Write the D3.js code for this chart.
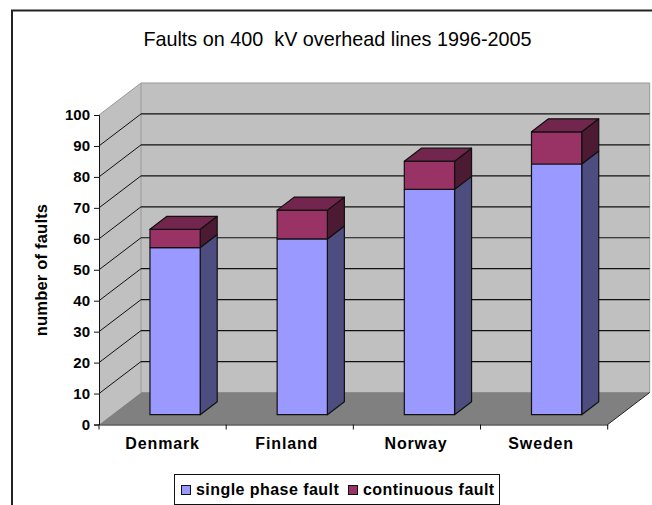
<!DOCTYPE html>
<html><head><meta charset="utf-8">
<script src="https://cdn.jsdelivr.net/npm/d3@7"></script>
<style>html,body{margin:0;padding:0;background:#fff}svg{display:block}text{font-family:"Liberation Sans",Arial,sans-serif;fill:#000}</style>
</head><body><svg id="c" width="652" height="505"></svg>
<script>
const categories = ["Denmark","Finland","Norway","Sweden"];
const singlePhase = [54, 56.8, 72.8, 81];
const continuous = [5.9, 9.3, 9.1, 10.4];
const yTicks = [0,10,20,30,40,50,60,70,80,90,100];
const seriesNames = ["single phase fault","continuous fault"];
const titleText = "Faults on 400  kV overhead lines 1996-2005";
const yTitle = "number of faults";
const labelNudge = [0,-3,-1,-3];

const svg = d3.select("#c");
const x = d3.scaleBand().domain(categories).range([99,607.7]);
const y = d3.scaleLinear().domain([0,100]).range([424.5,115]);
const wallDX = 42, wallDY = -32;
const barDX = 17, barDY = -13;
const barShiftX = 12.5, barShiftY = -9.8;
const barW = x.bandwidth()*0.395;
const pts = a => a.map(p=>p.join(",")).join(" ");

// frame
svg.append("path").attr("d","M12,505V10.5H652").attr("fill","none").attr("stroke","#222").attr("stroke-width",2);

// walls and floor
const xL=x.range()[0], xR=x.range()[1], y0=y(0), y100=y(100);
svg.append("polygon").attr("points",pts([[xL,y0],[xL+wallDX,y0+wallDY],[xL+wallDX,y100+wallDY],[xL,y100]])).attr("fill","#c0c0c0");
svg.append("polygon").attr("points",pts([[xL+wallDX,y0+wallDY],[xR+wallDX,y0+wallDY],[xR+wallDX,y100+wallDY],[xL+wallDX,y100+wallDY]])).attr("fill","#c0c0c0").attr("stroke","#999").attr("stroke-width",1);
svg.append("polygon").attr("points",pts([[xL,y0],[xR,y0],[xR+wallDX,y0+wallDY],[xL+wallDX,y0+wallDY]])).attr("fill","#808080");
svg.append("line").attr("x1",xL).attr("y1",y100).attr("x2",xL+wallDX).attr("y2",y100+wallDY).attr("stroke","#999");

// gridlines
yTicks.filter(t=>t>0&&t<100).forEach(t=>{
  const yy=y(t);
  svg.append("line").attr("x1",xL).attr("y1",yy).attr("x2",xL+wallDX).attr("y2",yy+wallDY).attr("stroke","#111").attr("stroke-width",1);
  svg.append("line").attr("x1",xL+wallDX).attr("y1",yy+wallDY).attr("x2",xR+wallDX).attr("y2",yy+wallDY).attr("stroke","#111").attr("stroke-width",1.2);
});
svg.append("line").attr("x1",xR).attr("y1",y0).attr("x2",xR+wallDX).attr("y2",y0+wallDY).attr("stroke","#222");

// bars
const by = v => y(v)+barShiftY;
const edge = {stroke:"#111","stroke-width":1.2,"stroke-linejoin":"round"};
function poly(p,fill){const s=svg.append("polygon").attr("points",pts(p)).attr("fill",fill);for(const k in edge)s.attr(k,edge[k]);}
categories.forEach((c,i)=>{
  const xa=x(c)+(x.bandwidth()-barW)/2+barShiftX, xb=xa+barW;
  const v0=0, v1=singlePhase[i], v2=v1+continuous[i];
  poly([[xb,by(v0)],[xb+barDX,by(v0)+barDY],[xb+barDX,by(v1)+barDY],[xb,by(v1)]],"#4d4d80");
  poly([[xa,by(v0)],[xb,by(v0)],[xb,by(v1)],[xa,by(v1)]],"#9999ff");
  poly([[xb,by(v1)],[xb+barDX,by(v1)+barDY],[xb+barDX,by(v2)+barDY],[xb,by(v2)]],"#4d1a33");
  poly([[xa,by(v1)],[xb,by(v1)],[xb,by(v2)],[xa,by(v2)]],"#993366");
  poly([[xa,by(v2)],[xb,by(v2)],[xb+barDX,by(v2)+barDY],[xa+barDX,by(v2)+barDY]],"#73264d");
});

// axes
const yAxis = d3.axisLeft(y).tickValues(yTicks).tickSize(5).tickPadding(4);
const gy = svg.append("g").attr("transform",`translate(${xL},0)`).call(yAxis);
const xAxis = d3.axisBottom(x).tickValues(categories).tickSize(0).tickPadding(13);
const gx = svg.append("g").attr("transform",`translate(0,${y0})`).call(xAxis);
gx.selectAll("text").attr("font-size",16).attr("letter-spacing",0.85).attr("dx",(d,i)=>labelNudge[i]);
gy.selectAll("text").attr("font-size",15);
[gx,gy].forEach(g=>{g.selectAll("text").attr("font-family",'"Liberation Sans"').attr("font-weight","bold");g.selectAll(".domain,line").attr("stroke","#111");});
gx.selectAll(".xt").data(d3.range(categories.length+1)).enter().append("line").attr("x1",i=>xL+i*x.bandwidth()).attr("x2",i=>xL+i*x.bandwidth()).attr("y1",0).attr("y2",5).attr("stroke","#111");

// titles
svg.append("text").attr("x",337.5).attr("y",46).attr("text-anchor","middle").attr("font-size",19.8).style("white-space","pre").text(titleText);
svg.append("text").attr("transform","translate(46.7,270) rotate(-90)").attr("text-anchor","middle").attr("font-size",16.5).attr("font-weight","bold").attr("letter-spacing",0.2).text(yTitle);

// legend
svg.append("rect").attr("x",174.5).attr("y",474.5).attr("width",325).attr("height",30).attr("fill","#fff").attr("stroke","#111");
const legendColors=["#9999ff","#993366"], lx=[181,348];
seriesNames.forEach((n,i)=>{
  svg.append("rect").attr("x",lx[i]+.5).attr("y",485.5).attr("width",9).attr("height",9).attr("fill",legendColors[i]).attr("stroke","#111");
  svg.append("text").attr("x",lx[i]+15).attr("y",494.5).attr("font-size",16).attr("font-weight","bold").attr("letter-spacing",0.45).text(n);
});
</script></body></html>
